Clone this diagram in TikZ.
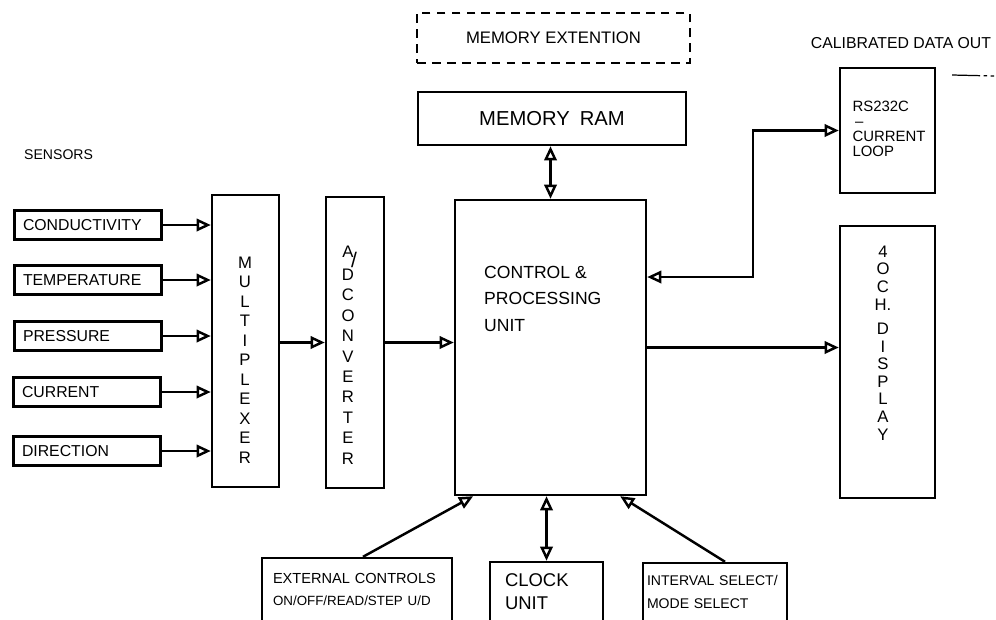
\documentclass[tikz,border=0pt]{standalone}
\usepackage{fontspec}
\setmainfont{Liberation Sans}
\usetikzlibrary{arrows.meta,calc}

\begin{document}
\begin{tikzpicture}[x=0.02cm, y=-0.02cm, line width=1.4pt,
    box/.style={draw, inner sep=0pt},
    sensor/.style={draw, text width=2.6cm, inner xsep=0.17cm, inner ysep=0pt,
      minimum height=0.58cm, align=left, font=\fontsize{9}{10}\selectfont},
    lbl/.style={inner sep=0pt, font=\fontsize{9.5}{11}\selectfont},
    vtext/.style={inner sep=0pt, align=center},
    tip/.tip={Triangle[open,length=8pt,width=7pt]},
    flow/.style={-tip},
    both/.style={tip-tip}]
  % frame of the sheet
  \clip (0,0) rectangle (996,619);

  % Sensors
  \node[lbl, anchor=west, font=\fontsize{8}{9}\selectfont] (senslbl) at (23,155) {SENSORS};
  \node[sensor] (cond) at (88,225) {CONDUCTIVITY};
  \node[sensor] (temp) at (88,280) {TEMPERATURE};
  \node[sensor] (pres) at (88,336) {PRESSURE};
  \node[sensor] (curr) at (87,392) {CURRENT};
  \node[sensor] (dir) at (87,451) {DIRECTION};

  % Multiplexer and converter
  \node[box, minimum width=1.34cm, minimum height=5.84cm] (mux) at (245.5,341) {};
  \node[vtext, font=\fontsize{9.5}{11.1}\selectfont] (muxtxt) at (245,360)
    {M\\U\\L\\T\\I\\P\\L\\E\\X\\E\\R};
  \node[box, minimum width=1.16cm, minimum height=5.82cm] (adc) at (355,342.5) {};
  \node[vtext, font=\fontsize{9.5}{11.6}\selectfont] (adctxt) at (348,355)
    {A\rlap{\kern-0.15em\raisebox{-1.1ex}{\large/}}\\D\\C\\O\\N\\V\\E\\R\\T\\E\\R};

  % Control unit and memory
  \node[box, minimum width=3.82cm, minimum height=5.9cm] (cpu) at (550.5,347.5) {};
  \node[lbl, anchor=north west, align=left, font=\fontsize{10}{15}\selectfont] (cputxt)
    at (483,265) {CONTROL \&\\PROCESSING\\UNIT};
  \node[box, minimum width=5.36cm, minimum height=1.06cm,
    font=\fontsize{11.5}{13}\selectfont] (ram) at (552,118.5) {MEMORY\enspace RAM};
  \node[box, dash pattern=on 5pt off 3.5pt, minimum width=5.46cm, minimum height=1cm,
    font=\fontsize{9.5}{11}\selectfont] (memext) at (553.5,38) {MEMORY EXTENTION};

  % Outputs
  \node[lbl, font=\fontsize{9}{10}\selectfont] (calout) at (901,43) {CALIBRATED DATA OUT};
  \node[box, minimum width=1.9cm, minimum height=2.5cm] (rs) at (887.5,130.5) {};
  \node[lbl, align=left, font=\fontsize{8.5}{8.5}\selectfont] (rstxt) at (889,129)
    {RS232C\\\,--\\CURRENT\\LOOP};
  \node[box, minimum width=1.9cm, minimum height=5.44cm] (disp) at (887.5,362) {};
  \node[vtext, font=\fontsize{9.5}{10}\selectfont] (disptxt) at (883,343)
    {4\\O\\C\\H.\\[4pt]D\\I\\S\\P\\L\\A\\Y};
  \coordinate (outa) at (952,75);
  \coordinate (outb) at (994,76);
  \draw[line width=0.7pt, dash pattern=on 16pt off 2pt on 2pt off 2pt] (outa) -- (outb);

  % Controls
  \node[box, text width=3.36cm, inner xsep=0.22cm, minimum height=1.26cm, align=left,
    font=\fontsize{8.3}{13}\selectfont] (ext) at (357,589.5)
    {EXTERNAL CONTROLS\\{\fontsize{7.6}{9}\selectfont ON/OFF/READ/STEP U/D}};
  \node[box, text width=1.66cm, inner xsep=0.3cm, minimum height=1.18cm, align=left,
    font=\fontsize{10.5}{13}\selectfont] (clock) at (546.5,591.5) {CLOCK\\UNIT};
  \node[box, text width=2.72cm, inner xsep=0.08cm, minimum height=1.16cm, align=left,
    font=\fontsize{8}{13}\selectfont] (interval) at (715,592)
    {\mbox{INTERVAL SELECT/}\\MODE SELECT};

  % Connections
  \foreach \s in {cond,temp,pres,curr,dir}
    \draw[flow] (\s.east) -- (\s.east -| mux.west);
  \draw[flow] (mux.east |- adc.west) -- (adc.west);
  \draw[flow] (adc.east) -- (adc.east -| cpu.west);
  \draw[both] (cpu.north) -- (cpu.north |- ram.south);
  \coordinate (rsport) at (753,277);
  \draw[both] (cpu.east |- rsport) -- (rsport) |- (rs.west);
  \draw[flow] (cpu.east) -- (cpu.east -| disp.west);
  \draw[flow] ([xshift=0.12cm]ext.north) -- ($(cpu.south west)!0.1!(cpu.south east)$);
  \draw[both] (clock.north) -- (clock.north |- cpu.south);
  \draw[flow] ([xshift=0.2cm]interval.north) -- ($(cpu.south west)!0.86!(cpu.south east)$);
\end{tikzpicture}
\end{document}
